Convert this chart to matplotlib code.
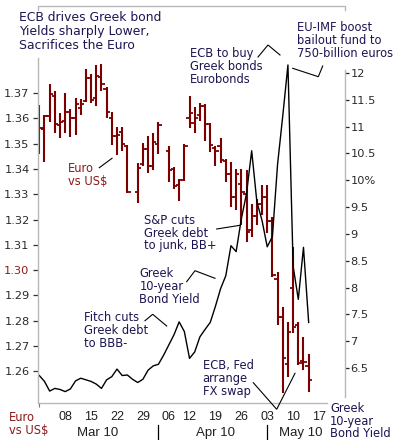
import numpy as np
import matplotlib
matplotlib.use("Agg")
import matplotlib.pyplot as plt
from matplotlib.lines import Line2D
import matplotlib.transforms as mtransforms

nan = float("nan")

# ---------------- data ----------------
trade_days = (["Mar %02d" % d for d in [1, 2, 3, 4, 5, 8, 9, 10, 11, 12, 15, 16, 17, 18, 19,
                                         22, 23, 24, 25, 26, 29, 30, 31]]
              + ["Apr %02d" % d for d in [1, 2, 6, 7, 8, 9, 12, 13, 14, 15, 16, 19, 20, 21,
                                           22, 23, 26, 27, 28, 29, 30]]
              + ["May %02d" % d for d in [3, 4, 5, 6, 7, 10, 11, 12, 13]])
axis_days = trade_days + ["May 14", "May 17"]

euro_open = [1.3620, 1.3556, 1.3610, 1.3690, 1.3575, 1.3590, 1.3625, 1.3600, 1.3640, 1.3670,
             1.3760, 1.3680, 1.3764, 1.3715, 1.3600, 1.3530, 1.3545, 1.3490, nan, 1.3310,
             1.3420, 1.3480, 1.3410, 1.3500, nan, 1.3470, 1.3400, 1.3335, 1.3358, 1.3600,
             1.3580, 1.3613, 1.3650, 1.3577, 1.3481, 1.3490, 1.3430, 1.3380, 1.3290, 1.3340,
             1.3300, 1.3160, 1.3215, 1.3260, 1.3290, 1.3195, 1.2964, 1.2813, 1.2629, 1.2928,
             1.2783, 1.2640, 1.2620]
euro_high = [1.3653, 1.3613, 1.3736, 1.3709, 1.3622, 1.3699, 1.3636, 1.3679, 1.3675, 1.3794,
             1.3775, 1.3811, 1.3815, 1.3722, 1.3624, 1.3564, 1.3567, 1.3495, nan, 1.3422,
             1.3501, 1.3530, 1.3543, 1.3587, nan, 1.3492, 1.3406, 1.3362, 1.3500, 1.3688,
             1.3645, 1.3662, 1.3657, 1.3580, 1.3491, 1.3521, 1.3438, 1.3428, 1.3398, 1.3400,
             1.3396, 1.3260, 1.3280, 1.3336, 1.3336, 1.3210, 1.2994, 1.2856, 1.2796, 1.3093,
             1.2796, 1.2734, 1.2668]
euro_low = [1.3460, 1.3428, 1.3587, 1.3543, 1.3521, 1.3541, 1.3527, 1.3534, 1.3613, 1.3663,
            1.3662, 1.3649, 1.3708, 1.3600, 1.3494, 1.3455, 1.3470, 1.3304, nan, 1.3264,
            1.3412, 1.3383, 1.3395, 1.3460, nan, 1.3349, 1.3320, 1.3275, 1.3353, 1.3560,
            1.3541, 1.3591, 1.3511, 1.3468, 1.3412, 1.3422, 1.3349, 1.3251, 1.3238, 1.3178,
            1.3112, 1.3130, 1.3180, 1.3218, 1.3145, 1.2974, 1.2783, 1.2513, 1.2579, 1.2750,
            1.2625, 1.2605, 1.2519]
euro_close = [1.3560, 1.3608, 1.3695, 1.3577, 1.3585, 1.3625, 1.3600, 1.3655, 1.3655, 1.3760,
              1.3672, 1.3767, 1.3734, 1.3625, 1.3530, 1.3535, 1.3497, 1.3310, nan, 1.3405,
              1.3480, 1.3410, 1.3507, 1.3575, nan, 1.3396, 1.3333, 1.3355, 1.3490, 1.3620,
              1.3600, 1.3649, 1.3577, 1.3494, 1.3470, 1.3435, 1.3380, 1.3288, 1.3380, 1.3310,
              1.3152, 1.3215, 1.3260, 1.3290, 1.3195, 1.2980, 1.2813, 1.2651, 1.2757, 1.2776,
              1.2632, 1.2636, 1.2566]
greek_yield = [6.36, 6.25, 6.07, 6.12, 6.10, 6.06, 6.11, 6.26, 6.31, 6.28,
               6.25, 6.20, 6.12, 6.28, 6.34, 6.48, 6.36, 6.37, 6.29, 6.23,
               6.29, 6.46, 6.54, 6.57, 6.74, 6.93, 7.12, 7.36, 7.18, 6.68,
               6.80, 7.08, 7.22, 7.35, 7.65, 7.98, 8.22, 8.78, 8.67, 9.28,
               9.75, 10.55, 9.60, 9.25, 8.76, 8.95, 10.30, 11.20, 12.15, 8.40,
               7.78, 8.75, 7.35]

left_ticks = [1.26, 1.27, 1.28, 1.29, 1.30, 1.31, 1.32, 1.33, 1.34, 1.35, 1.36, 1.37]
right_ticks = [6.5, 7, 7.5, 8, 8.5, 9, 9.5, 10, 10.5, 11, 11.5, 12]
right_tick_labels = ["6.5", "7", "7.5", "8", "8.5", "9", "9.5", "10%", "10.5", "11", "11.5", "12"]
week_ticks = ["Mar 08", "Mar 15", "Mar 22", "Mar 29", "Apr 06", "Apr 12", "Apr 19",
              "Apr 26", "May 03", "May 10", "May 17"]
month_labels = ["Mar 10", "Apr 10", "May 10"]

# ---------------- style ----------------
RED = "#7d0000"
TXTRED = "#8b1a1a"
NAVY = "#1c1652"
GRAY = "#b8b8b8"
W, H = 399, 440
fig = plt.figure(figsize=(W / 100, H / 100), dpi=100)
fig.patch.set_facecolor("white")

L, R, T, B = 38, 345, 6, 403
X0, DX = 39.3, 5.18          # pixel of first day, pixels per trading day
ax = fig.add_axes([L / W, 1 - B / H, (R - L) / W, (B - T) / H])
ax2 = ax.twinx()
for a in (ax, ax2):
    for s in a.spines.values():
        s.set_visible(False)
    a.patch.set_visible(False)

ax.set_xlim((L - X0) / DX, (R - X0) / DX)
ax.set_ylim(1.37 - (B - 93) / 2530.0, 1.37 + (93 - T) / 2530.0)
ax2.set_ylim(12 - (B - 73) / 53.64, 12 + (73 - T) / 53.64)

xi = np.arange(len(euro_close))
o = np.array(euro_open); h = np.array(euro_high); lo = np.array(euro_low); c = np.array(euro_close)
ok = ~np.isnan(c)
ax.vlines(xi[ok], lo[ok], h[ok], color=RED, lw=1.5, capstyle="butt")
ax.hlines(o[ok], xi[ok] - 0.62, xi[ok], color=RED, lw=1.3)
ax.hlines(c[ok], xi[ok], xi[ok] + 0.62, color=RED, lw=1.3)

ax2.plot(np.arange(len(greek_yield)), greek_yield, color="black", lw=1.0)

# ticks
ax.set_yticks(left_ticks)
ax.set_yticklabels(["%.2f" % v for v in left_ticks], fontsize=8.2, family="DejaVu Sans")
ax.tick_params(axis="y", length=3.5, width=0.9, color="#333333", pad=2.6, labelcolor="#2a2a2a")
for lab, v in zip(ax.get_yticklabels(), left_ticks):
    if abs(v - 1.30) < 1e-9:
        lab.set_color(TXTRED)
ax2.set_yticks(right_ticks)
ax2.set_yticklabels(right_tick_labels, fontsize=8.2, family="DejaVu Sans")
ax2.tick_params(axis="y", length=3.0, width=0.9, color="#222222", pad=0.8, labelcolor="#2a2a2a")

wpos = [axis_days.index(d) for d in week_ticks]
ax.set_xticks(wpos)
ax.set_xticklabels([d[-2:] for d in week_ticks], fontsize=9, family=["Liberation Sans", "DejaVu Sans"])
ax.tick_params(axis="x", length=0, pad=6.0, labelcolor="#202020")
ax.set_xticks([0], minor=True)
ax.tick_params(axis="x", which="minor", length=3, width=0.8, color="#777777", pad=0)

# frame lines (broken where text covers them)
def seg(pts, color="black", lw=0.8):
    xs = [p[0] / W for p in pts]
    ys = [1 - p[1] / H for p in pts]
    fig.add_artist(Line2D(xs, ys, transform=fig.transFigure, color=color, lw=lw,
                          solid_joinstyle="miter"))

seg([(L, 10), (L, T), (R, T), (R, 10)], color=GRAY, lw=1.0)
seg([(L, 58), (L, B)], color=GRAY, lw=1.0)
seg([(R, 70), (R, 397)], color=GRAY, lw=1.0)
seg([(L, B), (327, B)], color=GRAY, lw=1.0)

# month labels and separators
bt = mtransforms.blended_transform_factory(ax.transData, fig.transFigure)
for lab, xp in zip(month_labels, [(98 - X0) / DX, (215 - X0) / DX, (300.5 - X0) / DX]):
    fig.text(xp, 1 - 436 / H, lab, transform=bt, ha="center", va="baseline",
             fontsize=9.5, family=["Liberation Sans", "DejaVu Sans"], color="#202020")
for d in ["Apr 01", "May 03"]:
    xp = axis_days.index(d) - 0.1
    fig.add_artist(Line2D([xp, xp], [1 - 425 / H, 1 - 439 / H], transform=bt,
                          color="black", lw=0.9))

# texts
def mtext(x, y0, step, lines, color=NAVY, size=8.3):
    for i, s in enumerate(lines):
        fig.text(x / W, 1 - (y0 + i * step) / H, s, ha="left", va="baseline",
                 fontsize=size, color=color, family="DejaVu Sans")

mtext(19.3, 21, 14.2, ["ECB drives Greek bond", "Yields sharply Lower,", "Sacrifices the Euro"],
      size=8.95)
mtext(189.5, 56.7, 13, ["ECB to buy", "Greek bonds", "Eurobonds"])
mtext(297.3, 30.7, 13, ["EU-IMF boost", "bailout fund to", "750-billion euros"])
mtext(67.7, 172.3, 12.8, ["Euro", "vs US$"], color=TXTRED)
mtext(144, 224, 12.7, ["S&P cuts", "Greek debt", "to junk, BB+"])
mtext(139.3, 276.7, 13, ["Greek", "10-year", "Bond Yield"])
mtext(84, 320.7, 13, ["Fitch cuts", "Greek debt", "to BBB-"])
mtext(202.7, 369.3, 13, ["ECB, Fed", "arrange", "FX swap"])
mtext(330, 411.7, 12.8, ["Greek", "10-year", "Bond Yield"])
mtext(9, 421, 12.5, ["Euro", "vs US$"], color=TXTRED)

# pointer lines
seg([(99.3, 167.7), (112, 158.3)])
seg([(258, 57), (268, 45), (280, 55)])
seg([(292.7, 68.3), (318.3, 76.7), (322.7, 66)])
seg([(216.7, 229), (240, 225.3)])
seg([(186.7, 281.7), (195, 270.7), (215, 278.3)])
seg([(145, 320.7), (152.7, 314.3), (166.7, 326)])
seg([(253.3, 382.7), (276.7, 409.3), (295, 373.3)])

fig.savefig("out.png", dpi=100, facecolor="white")
